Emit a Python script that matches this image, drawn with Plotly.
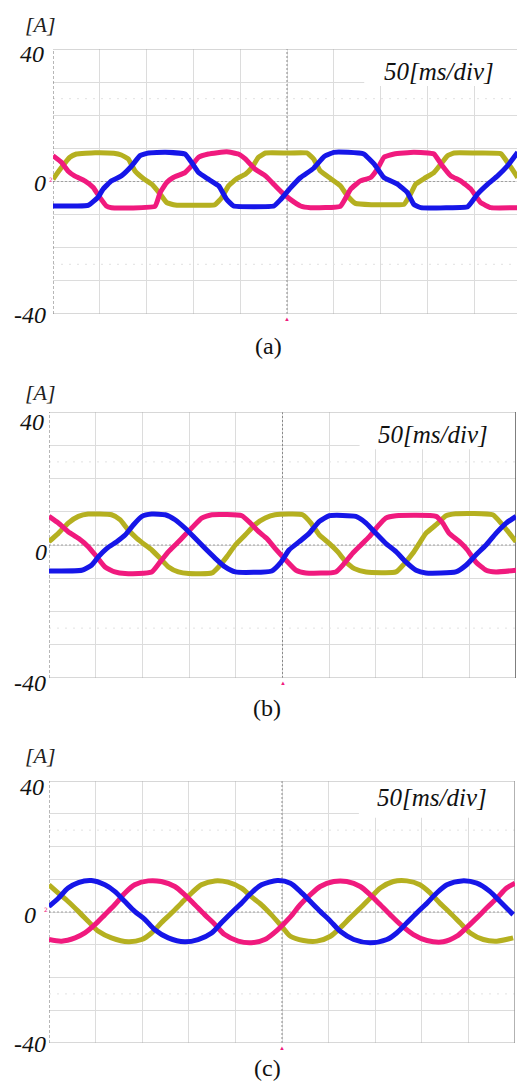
import plotly.graph_objects as go

W, H = 517, 1084

# Three-phase currents [A] sampled against time in divisions (50 ms/div)
# (a) trapezoidal currents
a_yellow_t = [0, 0.18, 0.36, 0.5, 0.9, 1.3, 1.46, 1.61, 1.75, 1.93, 2.11, 2.29, 2.43, 2.61, 3.0, 3.46,
              3.61, 3.75, 3.93, 4.11, 4.25, 4.39, 4.54, 5.0, 5.43, 5.57, 5.71, 5.93, 6.14, 6.29, 6.46,
              6.8, 7.2, 7.5, 7.64, 7.75, 7.93, 8.14, 8.29, 8.43, 8.57, 9.0, 9.57, 9.71, 9.86, 9.93]
a_yellow_i = [0.7, 4.2, 7.3, 8.3, 8.7, 8.5, 8.0, 6.8, 3.2, 0.9, -0.8, -3.8, -6.4, -7.1, -7.2, -7.0,
              -4.8, -1.3, 0.9, 2.2, 4.2, 7.3, 8.6, 8.6, 8.6, 6.8, 3.2, 0.9, -1.3, -4.3, -6.6,
              -7.0, -7.0, -6.9, -3.8, -0.8, 0.9, 2.7, 5.3, 7.8, 8.6, 8.6, 8.4, 5.8, 2.7, 1.2]

a_pink_t = [0, 0.18, 0.32, 0.46, 0.68, 0.86, 1.0, 1.14, 1.25, 1.7, 2.18, 2.29, 2.43, 2.57, 2.82, 2.96,
            3.11, 3.32, 3.71, 3.96, 4.11, 4.32, 4.54, 4.75, 4.89, 5.07, 5.29, 5.5, 6.14, 6.36, 6.57,
            6.79, 6.93, 7.07, 7.29, 7.71, 8.14, 8.29, 8.5, 8.71, 8.93, 9.14, 9.36, 9.93]
a_pink_i = [7.8, 5.8, 3.2, 1.7, 0.2, -1.8, -4.8, -7.4, -7.9, -8.0, -7.5, -3.3, -0.3, 1.2, 2.7, 4.7,
            7.3, 8.3, 9.0, 8.3, 6.8, 3.7, 1.7, -1.3, -3.3, -5.4, -7.4, -7.9, -7.5, -2.3, 0.2,
            1.2, 3.7, 7.3, 8.3, 8.8, 8.3, 5.3, 1.7, 0.2, -2.3, -6.4, -7.9, -7.9]

a_blue_t = [0, 0.5, 0.75, 0.96, 1.07, 1.25, 1.46, 1.68, 1.86, 2.04, 2.4, 2.82, 2.96, 3.11, 3.32, 3.54,
            3.71, 3.86, 4.3, 4.72, 4.86, 5.07, 5.29, 5.57, 5.79, 6.0, 6.3, 6.64, 6.86, 7.07, 7.36,
            7.57, 7.71, 7.86, 8.4, 8.86, 9.07, 9.29, 9.5, 9.71, 9.93]
a_blue_i = [-7.4, -7.4, -7.2, -4.8, -2.3, 0.2, 1.7, 4.7, 7.8, 8.6, 8.8, 8.3, 5.8, 2.7, 0.7, -1.3,
            -5.4, -7.4, -7.6, -7.4, -5.5, -2.0, 1.2, 4.0, 7.5, 8.8, 8.8, 8.3, 5.3, 1.2, -0.8,
            -3.3, -6.9, -7.9, -7.9, -7.6, -3.8, -0.8, 1.7, 4.7, 8.8]

# (b) quasi-sinusoidal currents
b_yellow_t = [0, 0.2, 0.41, 0.63, 0.84, 1.34, 1.52, 1.7, 1.88, 2.06, 2.2, 2.38, 2.56, 2.77, 2.99, 3.49,
              3.63, 3.81, 3.99, 4.2, 4.41, 4.63, 4.84, 5.43, 5.61, 5.79, 6.0, 6.18, 6.36, 6.54, 6.79,
              7.43, 7.61, 7.79, 7.93, 8.07, 8.29, 8.5, 8.71, 9.5, 9.68, 9.86, 10.0]
b_yellow_i = [1.0, 3.5, 6.6, 8.6, 9.3, 9.1, 7.6, 4.5, 2.0, 0.0, -1.5, -4.0, -6.6, -8.1, -8.6, -8.4,
              -6.6, -3.5, 0.0, 3.0, 6.1, 8.1, 9.1, 9.1, 6.6, 3.0, 0.5, -2.0, -5.1, -7.1, -8.1,
              -8.1, -5.6, -2.5, 0.5, 3.5, 6.1, 8.8, 9.4, 9.1, 6.6, 3.5, 1.0]

b_pink_t = [0, 0.2, 0.41, 0.63, 0.84, 1.02, 1.2, 1.41, 1.63, 2.2, 2.38, 2.56, 2.74, 2.91, 3.09, 3.27,
            3.49, 4.13, 4.31, 4.49, 4.66, 4.84, 5.07, 5.29, 5.5, 6.14, 6.32, 6.5, 6.68, 6.86, 7.04,
            7.21, 7.43, 8.29, 8.43, 8.57, 8.79, 8.96, 9.14, 9.36, 9.57, 10.0]
b_pink_i = [8.6, 6.6, 4.0, 2.0, -0.5, -3.5, -6.6, -8.1, -8.6, -8.1, -5.1, -2.0, 0.5, 3.0, 5.6, 8.1,
            9.1, 8.8, 6.6, 4.0, 2.0, -1.0, -4.5, -7.6, -8.4, -8.1, -5.6, -2.5, 0.0, 2.5, 5.6,
            8.1, 8.8, 8.6, 6.6, 3.5, 1.0, -1.5, -5.1, -7.6, -8.1, -7.6]

b_blue_t = [0, 0.7, 0.91, 1.06, 1.24, 1.45, 1.63, 1.81, 1.99, 2.2, 2.49, 2.7, 2.91, 3.13, 3.34, 3.56,
            3.77, 3.99, 4.77, 4.96, 5.14, 5.36, 5.57, 5.79, 6.0, 6.57, 6.79, 7.0, 7.21, 7.43, 7.64,
            7.86, 8.07, 8.71, 8.93, 9.14, 9.36, 9.57, 9.79, 10.0]
b_blue_i = [-7.8, -7.6, -6.1, -3.5, -1.0, 1.0, 3.0, 6.1, 8.6, 9.3, 9.1, 7.6, 5.1, 2.0, -1.0, -4.0,
            -6.6, -8.1, -7.8, -5.3, -1.5, 1.0, 3.5, 7.1, 8.8, 8.6, 6.6, 3.5, 0.5, -2.0, -5.1,
            -7.6, -8.4, -8.1, -6.1, -3.0, 0.0, 3.5, 6.6, 8.6]

# (c) sinusoidal currents
c_yellow_t = [0, 0.2, 0.41, 0.63, 0.84, 1.06, 1.34, 1.7, 1.99, 2.2, 2.41, 2.63, 2.84, 3.06, 3.27, 3.56,
              3.84, 4.13, 4.34, 4.56, 4.77, 5.0, 5.18, 5.46, 5.75, 6.04, 6.25, 6.46, 6.68, 6.89, 7.11,
              7.39, 7.68, 7.96, 8.18, 8.39, 8.61, 8.82, 9.04, 9.32, 9.61, 9.96]
c_yellow_i = [8.3, 5.8, 3.2, 0.2, -2.8, -5.9, -7.9, -9.1, -8.4, -6.4, -3.3, -0.3, 2.7, 5.8, 8.3, 9.5,
              9.1, 7.3, 4.7, 2.2, -0.8, -4.5, -7.4, -8.7, -8.9, -7.4, -4.8, -1.8, 1.2, 4.2, 7.3,
              9.3, 9.5, 8.3, 5.8, 2.7, -0.3, -3.3, -6.4, -8.4, -8.9, -7.9]

c_pink_t = [0, 0.27, 0.56, 0.77, 0.99, 1.2, 1.41, 1.63, 1.84, 2.13, 2.41, 2.7, 2.91, 3.13, 3.34, 3.56,
            3.77, 4.06, 4.34, 4.63, 4.9, 5.18, 5.39, 5.61, 5.82, 6.11, 6.39, 6.68, 6.89, 7.11, 7.32,
            7.54, 7.82, 8.11, 8.46, 8.75, 8.96, 9.18, 9.39, 9.61, 9.82, 10.0]
c_pink_i = [-8.4, -8.9, -7.9, -6.4, -3.8, -0.8, 2.2, 5.8, 8.3, 9.5, 9.3, 7.8, 5.3, 2.2, -0.8, -3.8,
            -6.9, -8.9, -9.4, -8.4, -5.5, -1.5, 2.2, 5.3, 7.8, 9.3, 9.3, 7.8, 5.3, 2.2, -0.8,
            -3.8, -6.9, -8.7, -9.1, -7.4, -4.8, -1.8, 1.2, 4.2, 7.3, 8.8]

c_blue_t = [0, 0.2, 0.41, 0.63, 0.91, 1.2, 1.41, 1.63, 1.84, 2.06, 2.27, 2.56, 2.91, 3.2, 3.49, 3.7,
            3.91, 4.13, 4.34, 4.56, 4.9, 5.18, 5.39, 5.61, 5.82, 6.04, 6.25, 6.54, 6.89, 7.25, 7.46,
            7.68, 7.89, 8.11, 8.32, 8.54, 8.86, 9.18, 9.46, 9.68, 9.96]
c_blue_i = [1.7, 4.2, 7.3, 9.0, 9.6, 8.3, 6.3, 3.2, 0.2, -2.3, -5.4, -7.9, -9.1, -8.4, -6.4, -3.3,
            -0.3, 2.7, 5.8, 8.3, 9.6, 8.8, 6.3, 3.2, 0.2, -2.8, -5.9, -8.4, -9.4, -8.4, -6.4,
            -3.3, -0.3, 2.7, 5.8, 8.3, 9.5, 8.8, 6.3, 3.2, -0.8]

y_ticks = [40, 0, -40]
y_tick_text = ["40", "0", "-40"]
captions = ["(a)", "(b)", "(c)"]
unit_text = "[A]"
scale_text = "50[ms/div]"

YELLOW = "#b5b020"
PINK = "#f01a7e"
BLUE = "#1616e8"
SERIF = "Liberation Serif"


def px(x):
    return x / W


def py(y):
    return 1 - y / H


# pixel frame of each scope screen and label placement
panels = [
    dict(caption=captions[0], left=53, right=517, top=49, bottom=314, xmax=(517 - 53) / 46.8,
         series=[(a_yellow_t, a_yellow_i, YELLOW), (a_pink_t, a_pink_i, PINK), (a_blue_t, a_blue_i, BLUE)],
         smooth=0.35, unit_y=24, tick_right=[46, 48, 48], tick_y=[54, 183, 315], scale_xy=(439, 72),
         cap_xy=(268, 346), right_line=None, gnd_mark=(51, 180)),
    dict(caption=captions[1], left=49, right=516, top=412, bottom=678, xmax=10,
         series=[(b_yellow_t, b_yellow_i, YELLOW), (b_pink_t, b_pink_i, PINK), (b_blue_t, b_blue_i, BLUE)],
         smooth=0.5, unit_y=392, tick_right=[46, 49, 48], tick_y=[422, 552, 683], scale_xy=(433, 434),
         cap_xy=(267, 708), right_line="#555555", gnd_mark=None),
    dict(caption=captions[2], left=49, right=515, top=781, bottom=1043, xmax=10,
         series=[(c_yellow_t, c_yellow_i, YELLOW), (c_pink_t, c_pink_i, PINK), (c_blue_t, c_blue_i, BLUE)],
         smooth=0.8, unit_y=755, tick_right=[46, 38, 48], tick_y=[787, 915, 1044], scale_xy=(432, 797),
         cap_xy=(267, 1068), right_line="#999999", gnd_mark=(46, 909)),
]

fig = go.Figure()
shapes = []
annotations = []

for k, p in enumerate(panels):
    sfx = "" if k == 0 else str(k + 1)
    xa, ya = "x" + sfx, "y" + sfx
    fig.update_layout(**{
        "xaxis" + sfx: dict(domain=[px(p["left"]), px(p["right"])], range=[0, p["xmax"]], dtick=1,
                            tick0=0, showgrid=True, gridcolor="#dcdcdc", gridwidth=1,
                            showticklabels=False, zeroline=False, showline=False, anchor=ya,
                            fixedrange=True),
        "yaxis" + sfx: dict(domain=[py(p["bottom"]), py(p["top"])], range=[-40, 40], dtick=10,
                            tick0=0, showgrid=True, gridcolor="#dcdcdc", gridwidth=1,
                            showticklabels=False, zeroline=False, showline=False, anchor=xa,
                            fixedrange=True),
    })

    for t, i, col in p["series"]:
        fig.add_trace(go.Scatter(x=t, y=i, mode="lines", xaxis=xa, yaxis=ya,
                                 line=dict(color=col, width=5, shape="spline", smoothing=p["smooth"]),
                                 showlegend=False, hoverinfo="skip"))

    xmax = p["xmax"]
    # white box behind the time-scale label
    shapes.append(dict(type="rect", xref=xa, yref=ya, x0=6.65, x1=xmax + 0.2, y0=28.8, y1=40,
                       fillcolor="white", line=dict(width=0), layer="between"))
    # faint dotted helper lines
    for yv in (25, -25):
        shapes.append(dict(type="line", xref=xa, yref=ya, x0=0, x1=xmax, y0=yv, y1=yv,
                           line=dict(color="#e2e2e2", width=1, dash="2px,6px"), layer="between"))
    # centre axes of the screen
    shapes.append(dict(type="line", xref=xa, yref=ya, x0=5, x1=5, y0=-40, y1=40,
                       line=dict(color="#8a8a8a", width=1, dash="2px,2px"), layer="between"))
    shapes.append(dict(type="line", xref=xa, yref=ya, x0=0, x1=xmax, y0=0, y1=0,
                       line=dict(color="#a0a0a0", width=1, dash="2px,2px"), layer="between"))
    # frame
    for yv in (40, -40):
        shapes.append(dict(type="line", xref=xa, yref=ya, x0=0, x1=xmax, y0=yv, y1=yv,
                           line=dict(color="#b0b0b0", width=1), layer="between"))
    shapes.append(dict(type="line", xref=xa, yref=ya, x0=0, x1=0, y0=-40, y1=40,
                       line=dict(color="#707070", width=1, dash="3px,2px"), layer="between"))
    if p["right_line"]:
        shapes.append(dict(type="line", xref=xa, yref=ya, x0=xmax, x1=xmax, y0=-40, y1=40,
                           line=dict(color=p["right_line"], width=1.5), layer="between"))

    # trigger marker under the centre line
    annotations.append(dict(xref=xa, yref=ya, x=5, y=-40, text="▲", showarrow=False,
                            yanchor="top", yshift=1, font=dict(size=6, color=PINK)))
    # ground-level marker at the left edge
    if p["gnd_mark"]:
        gx, gy = p["gnd_mark"]
        annotations.append(dict(xref="paper", yref="paper", x=px(gx), y=py(gy), text="2",
                                showarrow=False, xanchor="center", yanchor="middle",
                                font=dict(family="DejaVu Sans", size=6, color=PINK)))

    # labels
    annotations.append(dict(xref="paper", yref="paper", x=px(40), y=py(p["unit_y"]),
                            text=unit_text, showarrow=False, xanchor="center", yanchor="middle",
                            font=dict(family=SERIF, size=22, color="#222", style="italic")))
    for txt, xr, yc in zip(y_tick_text, p["tick_right"], p["tick_y"]):
        annotations.append(dict(xref="paper", yref="paper", x=px(xr), y=py(yc), text=txt,
                                showarrow=False, xanchor="right", yanchor="middle",
                                font=dict(family=SERIF, size=24, color="#111", style="italic")))
    sx, sy = p["scale_xy"]
    annotations.append(dict(xref="paper", yref="paper", x=px(sx), y=py(sy), text=scale_text,
                            showarrow=False, xanchor="center", yanchor="middle",
                            font=dict(family=SERIF, size=25, color="#111", style="italic")))
    cx, cy = p["cap_xy"]
    annotations.append(dict(xref="paper", yref="paper", x=px(cx), y=py(cy), text=p["caption"],
                            showarrow=False, xanchor="center", yanchor="middle",
                            font=dict(family=SERIF, size=24, color="#111")))

fig.update_layout(width=W, height=H, margin=dict(l=0, r=0, t=0, b=0),
                  paper_bgcolor="white", plot_bgcolor="white",
                  shapes=shapes, annotations=annotations, showlegend=False)

fig.write_html("out.html", config={"displayModeBar": False})
